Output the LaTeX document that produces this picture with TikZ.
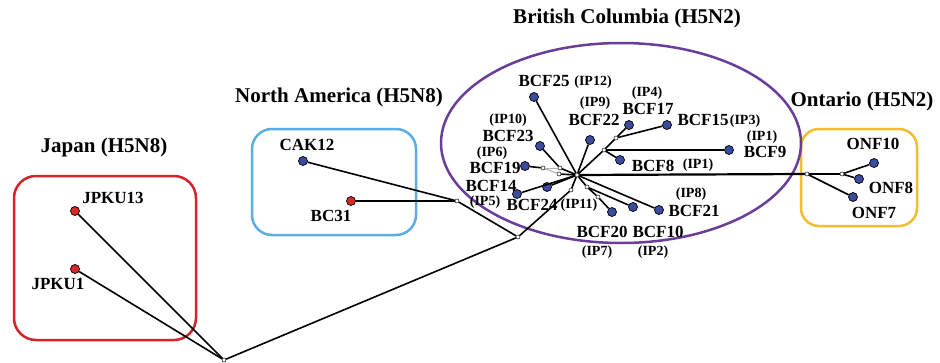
\documentclass[tikz,border=0pt]{standalone}
\usepackage{fontspec}
\setmainfont{Liberation Serif}
\usepackage{tikz}
\usetikzlibrary{positioning}
\definecolor{japanred}{HTML}{D0262B}
\definecolor{nablue}{HTML}{5BAEE4}
\definecolor{bcpurple}{HTML}{6A3D9A}
\definecolor{ongold}{HTML}{F0BE2E}
\definecolor{dotblue}{HTML}{3B4BA0}
\definecolor{dotred}{HTML}{D42A2A}
\definecolor{fork}{HTML}{B0B0B0}

\begin{document}
\begin{tikzpicture}[x=1pt,y=-1pt,
  bluestrain/.style={circle,draw=black,fill=dotblue,line width=0.7pt,inner sep=0pt,minimum size=9pt},
  redstrain/.style={circle,draw=black,fill=dotred,line width=0.7pt,inner sep=0pt,minimum size=9pt},
  knot/.style={circle,draw=black,fill=white,line width=0.5pt,inner sep=0pt,minimum size=4pt},
  branch/.style={line width=1.6pt},
  lbl/.style={font=\bfseries\fontsize{17}{19}\selectfont,inner sep=0pt},
  ip/.style={font=\bfseries\fontsize{14}{16}\selectfont,inner sep=0pt},
  region/.style={font=\bfseries\fontsize{21}{24}\selectfont,inner sep=0pt}]
\useasboundingbox (0,0) rectangle (940,362);
\fill[white] (0,0) rectangle (940,362);

\draw[japanred,line width=2.5pt,rounded corners=22pt] (14,176) rectangle (196,340);
\draw[nablue,line width=2.5pt,rounded corners=20pt] (252,129) rectangle (416,235);
\draw[ongold,line width=2.5pt,rounded corners=18pt] (801,129) rectangle (917,226);
\draw[bcpurple,line width=2.5pt] (621,143) ellipse [x radius=180, y radius=100];

\node[region] (tjapan) at (104,147) {Japan (H5N8)};
\node[region] (tna) at (339,97) {North America (H5N8)};
\node[region] (tbc) at (627,18) {British Columbia (H5N2)};
\node[region] (tont) at (862,101) {Ontario (H5N2)};

\node[knot] (root) at (224,360) {};
\node[knot] (j2) at (518,237) {};
\node[knot] (j1) at (571,190) {};
\node[knot] (na) at (457,201) {};
\node[knot] (c) at (577,175) {};
\node[knot] (i1) at (604,150) {};
\node[knot] (i2) at (616,138) {};
\node[knot] (m1) at (543,168) {};
\node[knot] (m2) at (560,168) {};
\node[knot] (m3) at (559,174) {};
\node[knot] (k1) at (587,187) {};
\node[knot] (k2) at (598,197) {};
\node[knot] (o1) at (807,174) {};
\node[knot] (o2) at (842,174) {};

\node[redstrain] (jpku13) at (75,211) {};
\node[redstrain] (jpku1) at (75,269) {};
\node[bluestrain] (cak12) at (303,161) {};
\node[redstrain] (bc31) at (351,201) {};
\node[bluestrain] (bcf25) at (534,97) {};
\node[bluestrain] (bcf22) at (590,140) {};
\node[bluestrain] (bcf17) at (629,125) {};
\node[bluestrain] (bcf15) at (667,125) {};
\node[bluestrain] (bcf9) at (729,150) {};
\node[bluestrain] (bcf8) at (620,160) {};
\node[bluestrain] (bcf23) at (540,146) {};
\node[bluestrain] (bcf19) at (525,166) {};
\node[bluestrain] (bcf14) at (517,194) {};
\node[bluestrain] (bcf24) at (547,187) {};
\node[bluestrain] (bcf20) at (612,212) {};
\node[bluestrain] (bcf10) at (633,207) {};
\node[bluestrain] (bcf21) at (659,210) {};
\node[bluestrain] (onf10) at (874,163) {};
\node[bluestrain] (onf8) at (859,179) {};
\node[bluestrain] (onf7) at (853,197) {};

\draw[branch] (root) -- (jpku13);
\draw[branch] (root) -- (jpku1);
\draw[branch] (root) -- (j2);
\draw[branch] (j2) -- (na);
\draw[branch] (na) -- (cak12);
\draw[branch] (na) -- (bc31);
\draw[branch] (j2) -- (j1);
\draw[branch] (j1) -- (c);
\draw[branch] (c) -- (bcf25);
\draw[branch] (c) -- (bcf22);
\draw[branch] (c) -- (i1);
\draw[line width=2.6pt] (i1) -- (bcf9);
\draw[branch] (i1) -- (bcf8);
\draw[branch] (i1) -- (i2);
\draw[branch] (i2) -- (bcf17);
\draw[branch] (i2) -- (bcf15);
\draw[branch] (c) -- (m2);
\draw[branch] (c) -- (m3);
\draw[branch] (m2) -- (bcf23);
\draw[branch] (m1) -- (bcf19);
\draw[fork,line width=1pt] (m1) -- (m2);
\draw[fork,line width=1pt] (m1) -- (m3);
\draw[branch] (c) -- (bcf14);
\draw[branch] (c) -- (bcf24);
\draw[branch] (c) -- (k1);
\draw[branch] (k1) -- (bcf10);
\draw[branch] (k1) -- (k2);
\draw[branch] (k2) -- (bcf20);
\draw[branch] (c) -- (bcf21);
\draw[line width=2.2pt] (c) -- (o1);
\draw[branch] (o1) -- (o2);
\draw[branch] (o2) -- (onf10);
\draw[branch] (o2) -- (onf8);
\draw[branch] (o1) -- (onf7);

\node[lbl] (ljpku13) at (113,198) {JPKU13};
\node[lbl] (ljpku1) at (58,284) {JPKU1};
\node[lbl] (lcak12) at (307,145) {CAK12};
\node[lbl] (lbc31) at (331,216) {BC31};
\node[lbl] (lbcf25) at (544,81) {BCF25};
\node[ip] (ip12) at (593,82) {(IP12)};
\node[ip] (ip9) at (595,103) {(IP9)};
\node[lbl] (lbcf22) at (594,120) {BCF22};
\node[ip] (ip4) at (647,93) {(IP4)};
\node[lbl] (lbcf17) at (648,109) {BCF17};
\node[lbl] (lbcf15) at (703,120) {BCF15};
\node[ip] (ip3) at (745,121) {(IP3)};
\node[ip] (ip1a) at (762,137) {(IP1)};
\node[lbl] (lbcf9) at (765,152) {BCF9};
\node[lbl] (lbcf8) at (653,166) {BCF8};
\node[ip] (ip1b) at (698,165) {(IP1)};
\node[ip] (ip10) at (508,120) {(IP10)};
\node[lbl] (lbcf23) at (508,136) {BCF23};
\node[ip] (ip6) at (492,153) {(IP6)};
\node[lbl] (lbcf19) at (495,168) {BCF19};
\node[lbl] (lbcf14) at (491,186) {BCF14};
\node[ip] (ip5) at (485,202) {(IP5)};
\node[lbl] (lbcf24) at (532,205) {BCF24};
\node[ip] (ip11) at (579,205) {(IP11)};
\node[ip] (ip8) at (691,194) {(IP8)};
\node[lbl] (lbcf21) at (694,211) {BCF21};
\node[lbl] (lbcf20) at (602,232) {BCF20};
\node[lbl] (lbcf10) at (658,232) {BCF10};
\node[ip] (ip7) at (597,252) {(IP7)};
\node[ip] (ip2) at (653,252) {(IP2)};
\node[lbl] (lonf10) at (873,144) {ONF10};
\node[lbl] (lonf8) at (891,188) {ONF8};
\node[lbl] (lonf7) at (874,213) {ONF7};
\end{tikzpicture}
\end{document}
